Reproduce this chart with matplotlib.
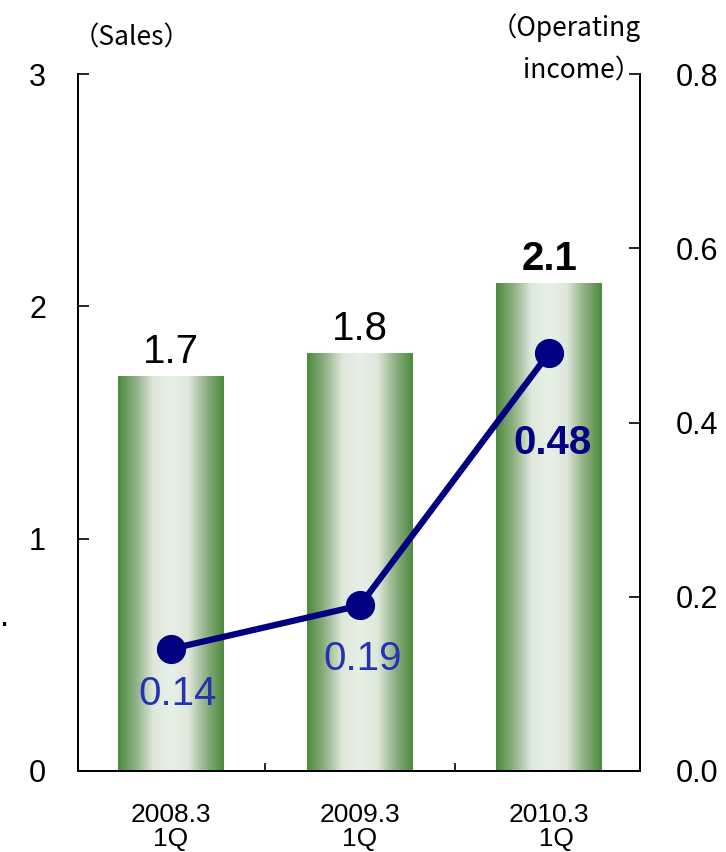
import numpy as np
import matplotlib.pyplot as plt
from matplotlib.colors import LinearSegmentedColormap
from matplotlib.patches import Rectangle

# Quarterly figures
periods = ['2008.3\n1Q', '2009.3\n1Q', '2010.3\n  1Q']
sales = [1.7, 1.8, 2.1]
sales_labels = ['1.7', '1.8', '2.1']
op_income = [0.14, 0.19, 0.48]
op_labels = ['0.14', '0.19', '0.48']

plt.rcParams['font.family'] = ['Liberation Sans', 'DejaVu Sans']

fig = plt.figure(figsize=(7.26, 8.52), dpi=100)
ax = fig.add_axes([0.1074, 0.0951, 0.7741, 0.818])
ax2 = ax.twinx()

x = np.arange(len(periods))
bar_w = 0.56

# green bars with a horizontal light-centre gradient
green = LinearSegmentedColormap.from_list(
    'barg', ['#4c8a3c', '#8fb084', '#dfe8dc', '#e8efe8', '#dfe8dc', '#8fb084', '#4c8a3c'])
grad = np.linspace(0, 1, 256).reshape(1, -1)
bars = ax.bar(x, sales, width=bar_w, color='none', edgecolor='none', zorder=2)
for b in bars:
    x0, y0 = b.get_x(), b.get_y()
    w, h = b.get_width(), b.get_height()
    im = ax.imshow(grad, cmap=green, aspect='auto', extent=[x0, x0 + w, y0, y0 + h],
                   interpolation='bicubic', zorder=2)
    im.set_clip_path(Rectangle((x0, y0), w, h, transform=ax.transData))

for xi, v, lab, bold in zip(x, sales, sales_labels, [False, False, True]):
    ax.text(xi, v + 0.02, lab, ha='center', va='bottom', fontsize=29,
            fontweight='bold' if bold else 'normal', color='black')

ax.set_xlim(-0.49, 2.48)
ax.set_ylim(0, 3)
ax.set_yticks([0, 1, 2, 3])
ax.set_yticklabels(['0', '1', '2', '3'])
ax.set_xticks(x)
ax.set_xticklabels(periods, fontsize=19, linespacing=1.0)
ax.set_xticks([0.5, 1.5, 2.48], minor=True)
ax.tick_params(axis='x', which='major', length=0, pad=23)
ax.tick_params(axis='x', which='minor', direction='in', length=6, width=1.2)
ax.tick_params(axis='y', direction='in', length=8, width=1.2, labelsize=22, pad=23)

# operating income line on the right axis
ax2.plot(x, op_income, color='#000080', linewidth=4.5, marker='o', markersize=20,
         zorder=5)
ax2.set_ylim(0, 0.8)
ax2.set_yticks([0, 0.2, 0.4, 0.6, 0.8])
ax2.set_yticklabels(['0.0', '0.2', '0.4', '0.6', '0.8'])
ax2.tick_params(axis='y', direction='in', length=8, width=1.2, labelsize=22, pad=26)

op_offsets = [(0.037, -0.052), (0.016, -0.062), (0.02, -0.103)]
for xi, v, lab, (dx, dy), bold in zip(x, op_income, op_labels, op_offsets, [False, False, True]):
    ax2.text(xi + dx, v + dy, lab, ha='center', va='center', fontsize=29,
             fontweight='bold' if bold else 'normal',
             color='#000080' if bold else '#2434b0')

for a in (ax, ax2):
    for s in a.spines.values():
        s.set_linewidth(1.3)
    a.spines['top'].set_visible(False)

# axis captions
cjk = ['Noto Sans CJK JP', 'DejaVu Sans']
fig.text(0.100, 0.955, '（Sales）', family=cjk, fontsize=19, ha='left', va='center')
fig.text(0.883, 0.968, '（Operating', family=cjk, fontsize=19, ha='right', va='center')
fig.text(0.883, 0.917, 'income）', family=cjk, fontsize=19, ha='right', va='center')
fig.text(0.0, 0.275, '.', fontsize=24, ha='left', va='center')

fig.savefig('out.png', dpi=100)
